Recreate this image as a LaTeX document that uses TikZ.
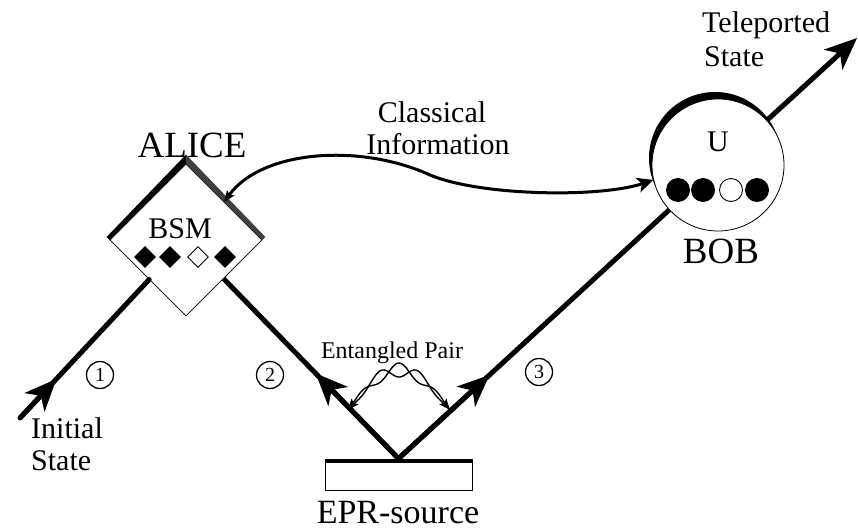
\documentclass[tikz,border=0pt]{standalone}
\usepackage{fontspec}
\setmainfont{Liberation Serif}
\usetikzlibrary{arrows.meta,shapes.geometric,calc}
\tikzset{
  bigtip/.tip={Stealth[length=32pt,width=27pt,inset=9pt]},
  smalltip/.tip={Stealth[length=11pt,width=9pt,inset=2pt]},
  beam/.style={line width=5pt},
  txt/.style={inner sep=0pt},
  cnum/.style={circle, draw, line width=1.3pt, minimum size=27pt, inner sep=0pt,
    font=\fontsize{20}{20}\selectfont},
  bit/.style={diamond, fill=black, draw=black, line width=0.9pt, minimum width=21pt, minimum height=21pt, inner sep=0pt},
  dot/.style={circle, fill=black, draw=black, line width=0.9pt, minimum size=23pt, inner sep=0pt},
}
\begin{document}
\begin{tikzpicture}[x=1pt,y=-1pt]
\useasboundingbox (0,0) rectangle (858,529);

% BOB station with shadow crescent
\coordinate (bobc) at (718,165);
\fill ([shift={(-3pt,7pt)}]bobc) circle[radius=66pt];
\node[circle, draw, fill=white, line width=0.8pt, minimum size=132pt, inner sep=0pt] (bob) at (bobc) {};

% ALICE station
\node[diamond, draw, fill=white, line width=0.8pt, minimum width=152pt, minimum height=152pt, inner sep=0pt] (alice) at (186,240) {};
\fill[black] (alice.west) -- ([shift={(-3pt,3pt)}]alice.west) -- ([yshift=9pt]alice.north) -- (alice.north) -- cycle;
\fill[black!75] (alice.north) -- ([yshift=9pt]alice.north) -- ([shift={(3pt,3pt)}]alice.east) -- (alice.east) -- cycle;

% EPR source
\node[rectangle, draw, line width=0.8pt, minimum width=147pt, minimum height=31pt, inner sep=0pt] (epr) at (398.5,474.5) {};
\fill (epr.north west) rectangle ([yshift=-4pt]epr.north east);

% free ends and arrow points on the beams
\coordinate (init) at (20,418);
\coordinate (tele) at (857,38);
\coordinate (m1) at ($(init)!0.22!(alice.center)$);
\coordinate (m2) at ($(epr.north)!0.39!(alice.center)$);
\coordinate (m3) at ($(epr.north)!0.285!(bob.center)$);

% texts
\node[txt, anchor=base, font=\fontsize{37}{37}\selectfont] (alicelbl) at (192,158) {ALICE};
\node[txt, anchor=base, font=\fontsize{30}{30}\selectfont] (bsm) at (180,238) {BSM};
\node[bit] (b1) at (145,257) {};
\node[bit] (b2) at (170,257) {};
\node[bit, fill=white] (b3) at (198,257) {};
\node[bit] (b4) at (225,257) {};

\node[txt, anchor=base, font=\fontsize{30}{30}\selectfont] (ulbl) at (718,152) {U};
\node[dot] (d1) at (678,190) {};
\node[dot] (d2) at (703,190) {};
\node[dot, fill=white] (d3) at (731,190) {};
\node[dot] (d4) at (757,190) {};
\node[txt, anchor=base, font=\fontsize{37}{37}\selectfont] (boblbl) at (721,263) {BOB};

\node[txt, anchor=base, font=\fontsize{30}{30}\selectfont] (cl1) at (432,123) {Classical};
\node[txt, anchor=base, font=\fontsize{30}{30}\selectfont] (cl2) at (438,155) {Information};

\node[txt, anchor=base west, font=\fontsize{30}{30}\selectfont] (tl1) at (702,33) {Teleported};
\node[txt, anchor=base west, font=\fontsize{30}{30}\selectfont] (tl2) at (704,67) {State};

\node[txt, anchor=base west, font=\fontsize{30}{30}\selectfont] (in1) at (31,438) {Initial};
\node[txt, anchor=base west, font=\fontsize{30}{30}\selectfont] (in2) at (31,470) {State};

\node[txt, anchor=base, font=\fontsize{24}{24}\selectfont] (entl) at (392,358) {Entangled Pair};
\node[txt, anchor=base, font=\fontsize{34}{34}\selectfont] (eprl) at (398,523) {EPR-source};

\node[cnum] (n1) at (100,375) {1};
\node[cnum] (n2) at (270,375) {2};
\node[cnum] (n3) at (539,372) {3};

% beams (continuous), with their arrowheads drawn on top
\draw[beam, line cap=round] (init) -- (alice);
\draw[beam] (epr.north) -- (alice);
\draw[beam] (epr.north) -- (bob);
\draw[beam, -{bigtip}] (init) -- (m1);
\draw[beam, -{bigtip}] (epr.north) -- (m2);
\draw[beam, -{bigtip}] (epr.north) -- (m3);
\draw[beam, -{bigtip}] (bob) -- (tele);

% classical information channel
\draw[line width=3pt, {smalltip}-{Stealth[length=16pt,width=15pt,inset=4pt]}]
  ($(alice.north)!0.5!(alice.east)$) .. controls (262,150) and (360,143) .. (430,175)
  .. controls (480,196) and (600,198) .. (bob.193);

% entangled pair waves
\draw[line width=1.4pt, smalltip-smalltip] plot[domain=0:1, samples=120, smooth, variable=\t]
  ({348+102*\t}, {410-40*sin(180*\t)+7*sin(180*\t)*sin(900*\t)});
\draw[line width=1.4pt] plot[domain=0:1, samples=120, smooth, variable=\t]
  ({348+102*\t}, {410-40*sin(180*\t)-7*sin(180*\t)*sin(900*\t)});
\end{tikzpicture}
\end{document}
